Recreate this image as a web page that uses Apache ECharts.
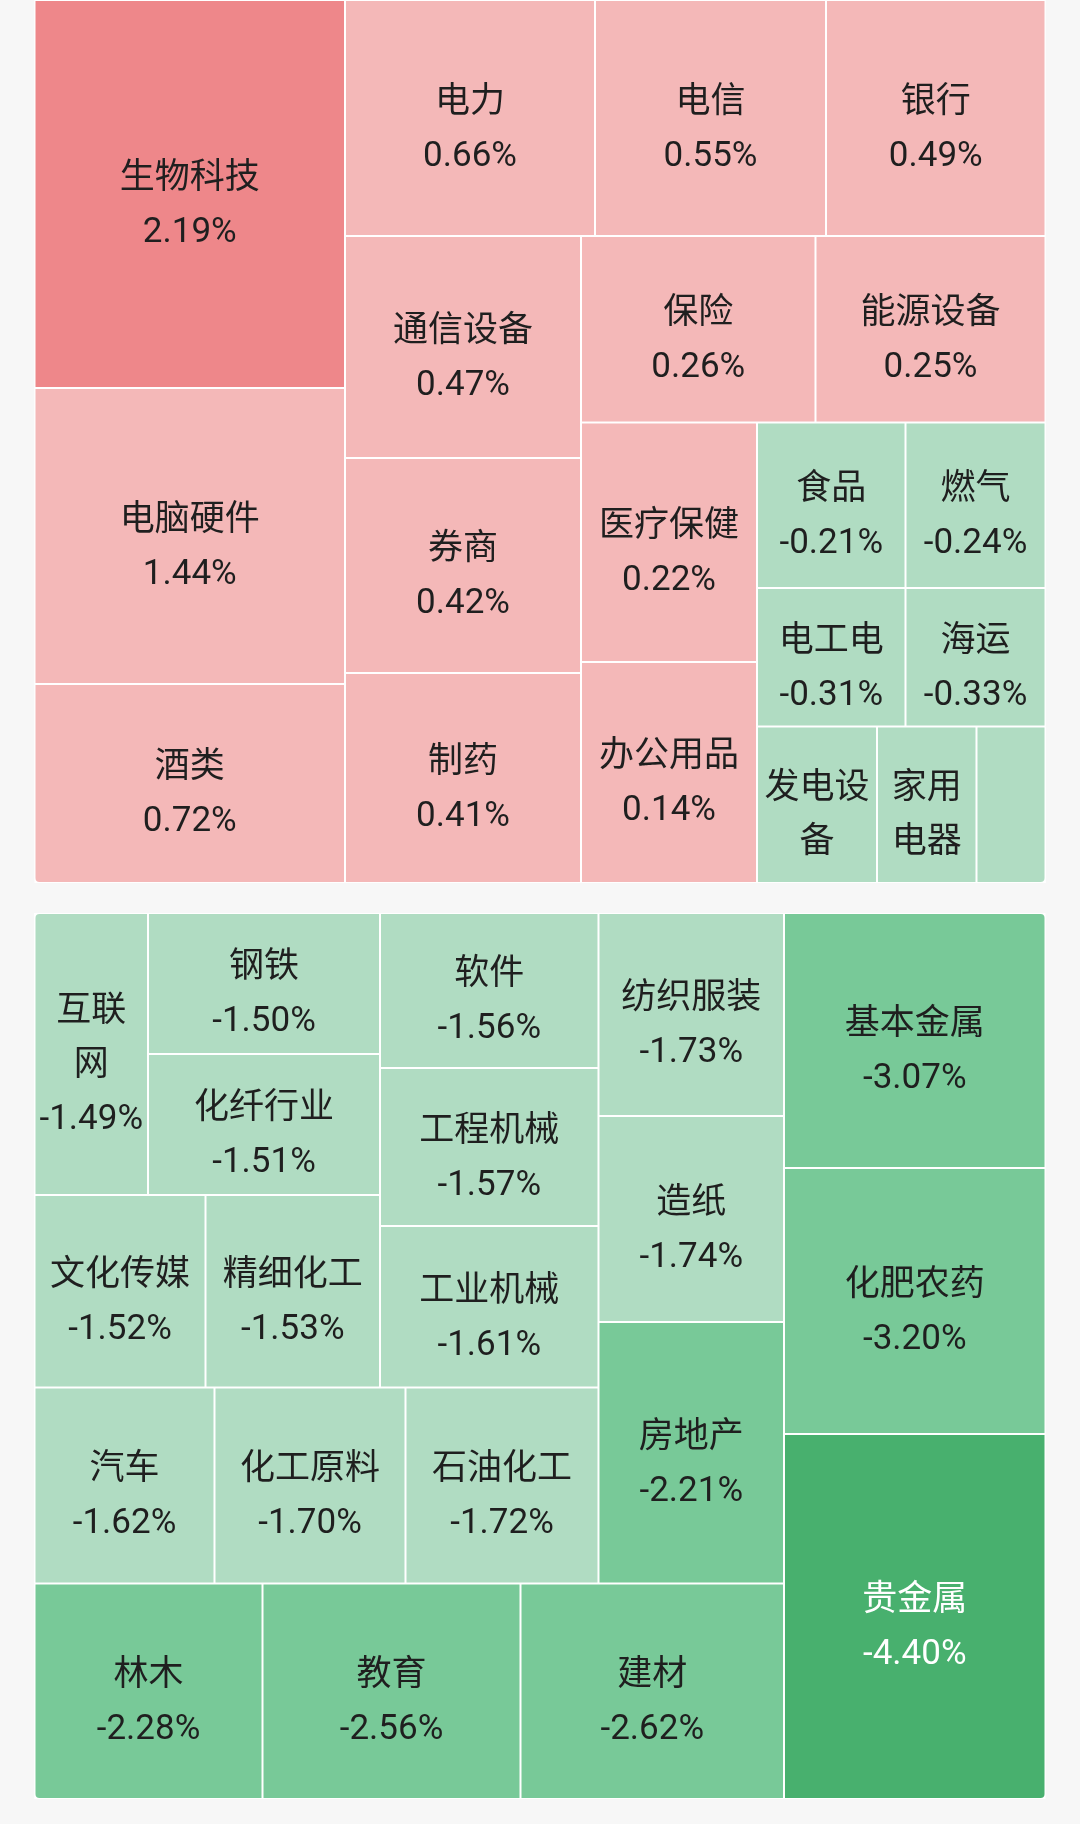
<!DOCTYPE html>
<html>
<head>
<meta charset="utf-8">
<title>行业涨跌</title>
<script src="https://cdn.jsdelivr.net/npm/echarts@6/dist/echarts.min.js"></script>
<style>
  html, body { margin: 0; padding: 0; background: #f7f7f7; }
  #chart { width: 1080px; height: 1824px; }
</style>
</head>
<body>
<div id="chart"></div>
<script>
// upper block: gainers and the mildest decliners
const upNames = ['生物科技', '电脑硬件', '酒类', '电力', '电信', '银行', '通信设备', '券商', '制药', '保险',
  '能源设备', '医疗保健', '办公用品', '食品', '燃气', '电工电', '海运', '发电设备', '家用电器', '电子元件'];
const upPct = [2.19, 1.44, 0.72, 0.66, 0.55, 0.49, 0.47, 0.42, 0.41, 0.26,
  0.25, 0.22, 0.14, -0.21, -0.24, -0.31, -0.33, -0.35, -0.37, -0.39];
const upSize = [120474, 91908, 61790, 59000, 54516, 51802, 52392, 50740, 49560, 43734,
  42895, 42152, 38896, 24577, 23170, 20567, 19390, 18780, 15572, 10799];
// nesting keys, they pin the squarify splits to the ones in the picture
const upGroup = ['', '', '', '', '', '', '', '', '', '',
  '', 'M', 'M', 'S', 'S', 'S', 'S', 'S/G', 'S/G', 'S/G'];

// lower block: the bigger decliners
const downNames = ['互联网', '钢铁', '化纤行业', '文化传媒', '精细化工', '软件', '工程机械', '工业机械', '汽车', '化工原料',
  '石油化工', '纺织服装', '造纸', '房地产', '林木', '教育', '建材', '基本金属', '化肥农药', '贵金属'];
const downPct = [-1.49, -1.50, -1.51, -1.52, -1.53, -1.56, -1.57, -1.61, -1.62, -1.70,
  -1.72, -1.73, -1.74, -2.21, -2.28, -2.56, -2.62, -3.07, -3.20, -4.40];
const downSize = [32007, 32712, 32712, 32918, 33591, 33868, 34523, 35288, 35280, 37436,
  37828, 37657, 38213, 48508, 49134, 55599, 56784, 66683, 69559, 95448];
const downGroup = ['A/B/C/D/E/F', 'A/B/C/D/E/F/G', 'A/B/C/D/E/F/G', 'A/B/C/D/E', 'A/B/C/D/E', 'A/B/C/D', 'A/B/C/D', 'A/B/C/D', 'A/B/C', 'A/B/C',
  'A/B/C', 'A/B', 'A/B', 'A/B', 'A', 'A', 'A', '', '', ''];

const hiddenLabels = ['电子元件'];
const corners = {
  '酒类': [0, 0, 0, 4], '电子元件': [0, 0, 4, 0],
  '互联网': [4, 0, 0, 0], '基本金属': [0, 4, 0, 0], '林木': [0, 0, 0, 4], '贵金属': [0, 0, 4, 0]
};

function cellColor(p) {
  if (p >= 2) return '#ee878a';
  if (p >= 0) return '#f4b8b8';
  if (p > -2) return '#b0dcc2';
  if (p > -4) return '#78c998';
  return '#48b06e';
}

function buildTree(names, pct, size, group) {
  const root = { children: [] };
  names.forEach((name, i) => {
    let node = root;
    if (group[i]) {
      group[i].split('/').forEach(key => {
        let child = node.children.find(c => c.name === key);
        if (!child) {
          child = { name: key, children: [] };
          node.children.push(child);
        }
        node = child;
      });
    }
    const item = {
      name,
      value: size[i],
      pct: pct[i],
      itemStyle: {
        color: cellColor(pct[i]),
        borderColor: '#fff',
        borderWidth: 1,
        borderRadius: corners[name] || 0
      }
    };
    if (hiddenLabels.includes(name)) item.label = { show: false };
    if (pct[i] <= -4) item.label = { color: '#fff' };
    node.children.push(item);
  });
  return root.children;
}

function block(data, top, height) {
  return {
    type: 'treemap',
    left: 34.5,
    top,
    width: 1011,
    height,
    sort: false,
    squareRatio: 0.95,
    roam: false,
    nodeClick: false,
    breadcrumb: { show: false },
    itemStyle: { borderWidth: 0, gapWidth: 0, borderColor: '#fff' },
    label: {
      show: true,
      position: 'inside',
      align: 'center',
      verticalAlign: 'middle',
      offset: [0, 12],
      padding: [0, 3.5],
      fontSize: 35,
      lineHeight: 54,
      color: '#1f1f1f',
      fontFamily: 'Roboto, "Noto Sans CJK SC", sans-serif',
      overflow: 'break',
      formatter: p => p.name + '\n' + p.data.pct.toFixed(2) + '%'
    },
    data
  };
}

const chart = echarts.init(document.getElementById('chart'));
chart.setOption({
  backgroundColor: '#f7f7f7',
  animation: false,
  series: [
    block(buildTree(upNames, upPct, upSize, upGroup), 0, 883),
    block(buildTree(downNames, downPct, downSize, downGroup), 913, 886)
  ]
});
</script>
</body>
</html>
